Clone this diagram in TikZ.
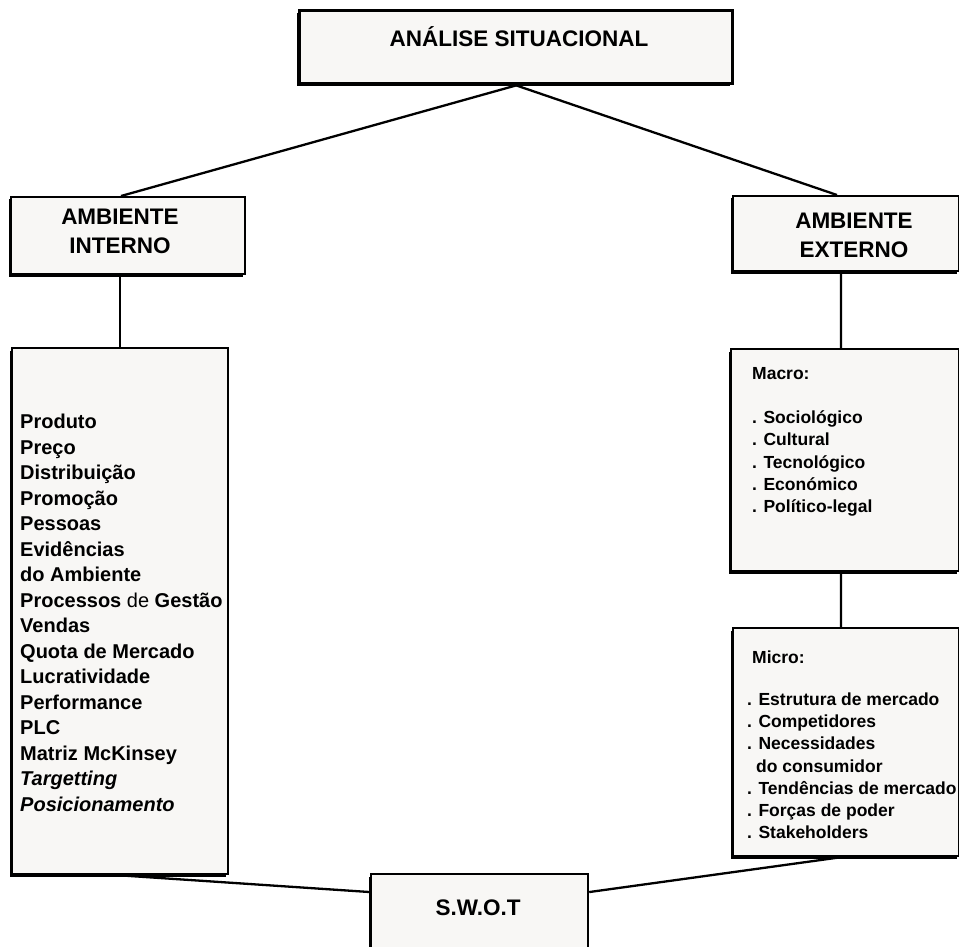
\documentclass[tikz,border=0pt]{standalone}
\usepackage{fontspec}
\setmainfont{Liberation Sans}
\usetikzlibrary{shadows,calc,backgrounds}
\definecolor{boxfill}{RGB}{248,247,245}
\begin{document}
\begin{tikzpicture}[x=1pt,y=-1pt,
  box/.style={draw=black, line width=2.2pt, fill=boxfill, rectangle, inner sep=0pt,
    anchor=north west,
    general shadow={fill=black, shadow xshift=-2.4pt, shadow yshift=-2.4pt}},
  titlebox/.style={box, line width=3.4pt},
  conn/.style={draw=black, line width=2.3pt},
  bigtxt/.style={font=\fontsize{22.5}{29}\selectfont\bfseries, inner sep=0pt},
  listtxt/.style={font=\fontsize{20}{25.5}\selectfont\bfseries, inner sep=0pt, align=left, anchor=north west},
  smalltxt/.style={font=\fontsize{17.5}{22.3}\selectfont\bfseries, inner sep=0pt, align=left, anchor=north west}
]
\clip (0,0) rectangle (959,947);

% boxes
\node[titlebox, minimum width=433pt, minimum height=73pt] (top) at (298,9) {};
\node[box, minimum width=234pt, minimum height=77pt] (ai) at (10,196) {};
\node[box, minimum width=216pt, minimum height=526pt] (lbox) at (11,347) {};
\node[box, minimum width=226pt, minimum height=75pt] (ae) at (732,195) {};
\node[box, minimum width=228pt, minimum height=222pt] (macro) at (730,348) {};
\node[box, minimum width=226pt, minimum height=228pt] (micro) at (732,627) {};
\node[box, minimum width=217pt, minimum height=74pt] (swot) at (370,873) {};

% texts
\node[bigtxt, anchor=base] (ttitle) at (519,47) {ANÁLISE SITUACIONAL};
\node[bigtxt, align=center, anchor=north] (tai) at (120,209) {AMBIENTE\\INTERNO};
\node[bigtxt, align=center, anchor=north] (tae) at (854,213) {AMBIENTE\\EXTERNO};
\node[bigtxt, anchor=base] (tswot) at (478,915) {S.W.O.T};
\node[listtxt] (tlist) at (20,414) {Produto\\Preço\\Distribuição\\Promoção\\Pessoas\\Evidências\\do Ambiente\\Processos {\mdseries de} Gestão\\Vendas\\Quota de Mercado\\Lucratividade\\Performance\\PLC\\Matriz McKinsey\\\textit{Targetting}\\\textit{Posicionamento}};
\node[smalltxt] (tmacro) at (752,367) {Macro:\\[22pt]. Sociológico\\. Cultural\\. Tecnológico\\. Económico\\. Político-legal};
\node[smalltxt] (tmicro) at (747,651) {\hspace*{5pt}Micro:\\[19pt]. Estrutura de mercado\\. Competidores\\. Necessidades\\\hspace*{9pt}do consumidor\\. Tendências de mercado\\. Forças de poder\\. Stakeholders};

% connectors
\begin{scope}[on background layer]
\fill[white] (0,0) rectangle (959,947);
\draw[conn] (top.south) -- ($(ai.north west)!0.47!(ai.north east)$);
\draw[conn] (top.south) -- ($(ae.north west)!0.46!(ae.north east)$);
\draw[conn] (lbox.north) -- (lbox.north |- ai.south);
\draw[conn] ($(ae.south west)!0.478!(ae.south east)$) -- ($(macro.north west)!0.482!(macro.north east)$);
\draw[conn] ($(macro.south west)!0.482!(macro.south east)$) -- ($(micro.north west)!0.478!(micro.north east)$);
\draw[conn] ($(lbox.south west)!0.49!(lbox.south east)$) -- ($(swot.north west)!0.25!(swot.south west)$);
\draw[conn] ($(swot.north east)!0.25!(swot.south east)$) -- ($(micro.south west)!0.478!(micro.south east)$);
\end{scope}
\end{tikzpicture}
\end{document}
